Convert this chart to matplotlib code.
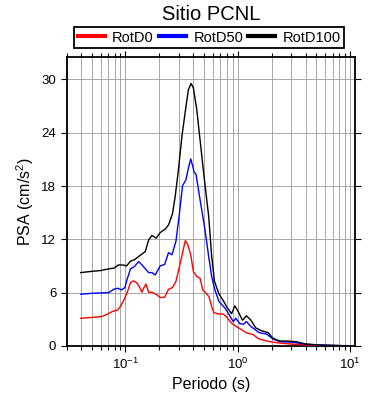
import numpy as np
import matplotlib
matplotlib.use("Agg")
import matplotlib.pyplot as plt
from matplotlib.ticker import LogLocator, MultipleLocator, NullFormatter

plt.rcParams["font.family"] = ["Liberation Sans", "DejaVu Sans"]
plt.rcParams["mathtext.fontset"] = "custom"
plt.rcParams["mathtext.rm"] = "Liberation Sans"
plt.rcParams["mathtext.it"] = "Liberation Sans:italic"

# Periodos (s) y PSA (cm/s2)
periodo_d100 = [0.04, 0.052, 0.06, 0.071, 0.079, 0.087, 0.097, 0.102, 0.111, 0.12,
                0.131, 0.15, 0.161, 0.172, 0.188, 0.204, 0.226, 0.242, 0.262, 0.277,
                0.296, 0.318, 0.339, 0.363, 0.384, 0.402, 0.431, 0.461, 0.50, 0.55,
                0.585, 0.62, 0.68, 0.75, 0.80, 0.88, 0.94, 1.0, 1.10, 1.19,
                1.30, 1.44, 1.60, 1.86, 2.05, 2.36, 2.72, 3.3, 4.0, 5.3,
                6.9, 10.0]
rotd100 = [8.26, 8.42, 8.49, 8.68, 8.76, 9.13, 9.10, 9.0, 9.55, 9.7,
           10.07, 10.63, 11.95, 12.44, 12.14, 12.77, 13.16, 13.64, 14.88, 16.83,
           19.84, 23.6, 26.2, 28.86, 29.54, 29.05, 26.6, 23.2, 19.1, 14.6,
           10.1, 7.25, 5.85, 5.0, 4.35, 3.64, 4.52, 3.95, 2.9, 3.4,
           2.95, 2.05, 1.75, 1.5, 0.87, 0.56, 0.56, 0.49, 0.23, 0.11,
           0.08, 0.0]

periodo_d50 = [0.04, 0.052, 0.071, 0.079, 0.0855, 0.092, 0.099, 0.103, 0.111, 0.12,
               0.131, 0.14, 0.161, 0.172, 0.184, 0.204, 0.223, 0.242, 0.259, 0.281,
               0.30, 0.322, 0.345, 0.363, 0.381, 0.397, 0.408, 0.425, 0.461, 0.51,
               0.55, 0.585, 0.625, 0.68, 0.77, 0.83, 0.91, 0.96, 1.04, 1.12,
               1.19, 1.31, 1.55, 1.80, 2.05, 2.36, 3.1, 4.0, 6.1, 10.0]
rotd50 = [5.83, 5.94, 6.01, 6.39, 6.5, 6.31, 6.57, 7.44, 8.68, 8.94,
          9.5, 9.13, 8.26, 8.26, 8.0, 9.02, 9.17, 10.52, 10.26, 11.76,
          14.58, 18.04, 18.7, 20.0, 21.05, 20.2, 19.58, 19.28, 16.46, 13.08,
          10.07, 7.81, 6.31, 5.0, 4.25, 3.6, 2.74, 3.12, 2.52, 2.45,
          2.75, 2.18, 1.5, 1.35, 0.79, 0.49, 0.42, 0.19, 0.08, 0.02]

periodo_d0 = [0.04, 0.052, 0.061, 0.069, 0.076, 0.085, 0.090, 0.097, 0.103, 0.111,
              0.118, 0.127, 0.134, 0.14, 0.145, 0.152, 0.161, 0.172, 0.191, 0.204,
              0.223, 0.242, 0.262, 0.281, 0.302, 0.324, 0.341, 0.359, 0.381, 0.402,
              0.431, 0.461, 0.487, 0.53, 0.553, 0.585, 0.613, 0.67, 0.74, 0.79,
              0.88, 0.97, 1.06, 1.19, 1.37, 1.52, 1.80, 2.2, 2.9, 4.0,
              6.5, 10.0]
rotd0 = [3.12, 3.23, 3.3, 3.57, 3.87, 4.06, 4.43, 5.19, 5.94, 7.14,
         7.33, 7.07, 6.57, 6.05, 6.5, 6.96, 6.05, 6.05, 5.75, 5.45,
         5.49, 6.39, 6.57, 7.25, 8.94, 10.63, 11.87, 11.39, 10.26, 8.38,
         7.81, 7.63, 6.31, 5.83, 5.56, 4.43, 3.75, 3.6, 3.6, 3.3,
         2.56, 2.18, 1.9, 1.48, 1.28, 0.83, 0.56, 0.37, 0.23, 0.11,
         0.03, 0.0]

series = [
    ("RotD0", periodo_d0, rotd0, "#ff0000"),
    ("RotD50", periodo_d50, rotd50, "#0000ff"),
    ("RotD100", periodo_d100, rotd100, "#000000"),
]

fig = plt.figure(figsize=(3.9, 4.0), dpi=100)
ax = fig.add_axes([0.171, 0.135, 0.739, 0.722])

for name, per, psa, color in series:
    ax.plot(per, psa, color=color, lw=1.0, label=name, zorder=3)

ax.set_xscale("log")
ax.set_xlim(0.03, 11)
ax.set_ylim(0, 32.5)
ax.xaxis.set_major_locator(LogLocator(base=10, numticks=10))
ax.xaxis.set_minor_locator(LogLocator(base=10, subs=np.arange(2, 10), numticks=20))
ax.xaxis.set_minor_formatter(NullFormatter())
ax.yaxis.set_major_locator(MultipleLocator(6))

ax.grid(True, which="both", axis="x", color="#999999", lw=0.6)
ax.grid(True, which="major", axis="y", color="#999999", lw=0.6)

for sp in ax.spines.values():
    sp.set_linewidth(1.3)

ax.tick_params(which="both", direction="out", top=True, right=True, labelsize=9.5, width=0.8)
ax.tick_params(which="major", length=4.5, pad=3)
ax.tick_params(which="minor", length=3)

ax.set_xlabel("Periodo (s)", fontsize=11.5, labelpad=4)
ax.set_ylabel("PSA (cm/s$^2$)", fontsize=11.5, labelpad=4)

fig.text(0.541, 1 - 14 / 400, "Sitio PCNL", ha="center", va="center", fontsize=14.5)

leg = ax.legend(loc="center", bbox_to_anchor=(0.495, 1.068),
                ncol=3, borderaxespad=0, fancybox=False,
                edgecolor="black", framealpha=1, fontsize=10.5, handlelength=1.85,
                handletextpad=0.5, columnspacing=0.35, borderpad=0.25)
leg.get_frame().set_linewidth(1.3)
for line in leg.get_lines():
    line.set_linewidth(3)

fig.savefig("out.png", dpi=100)
